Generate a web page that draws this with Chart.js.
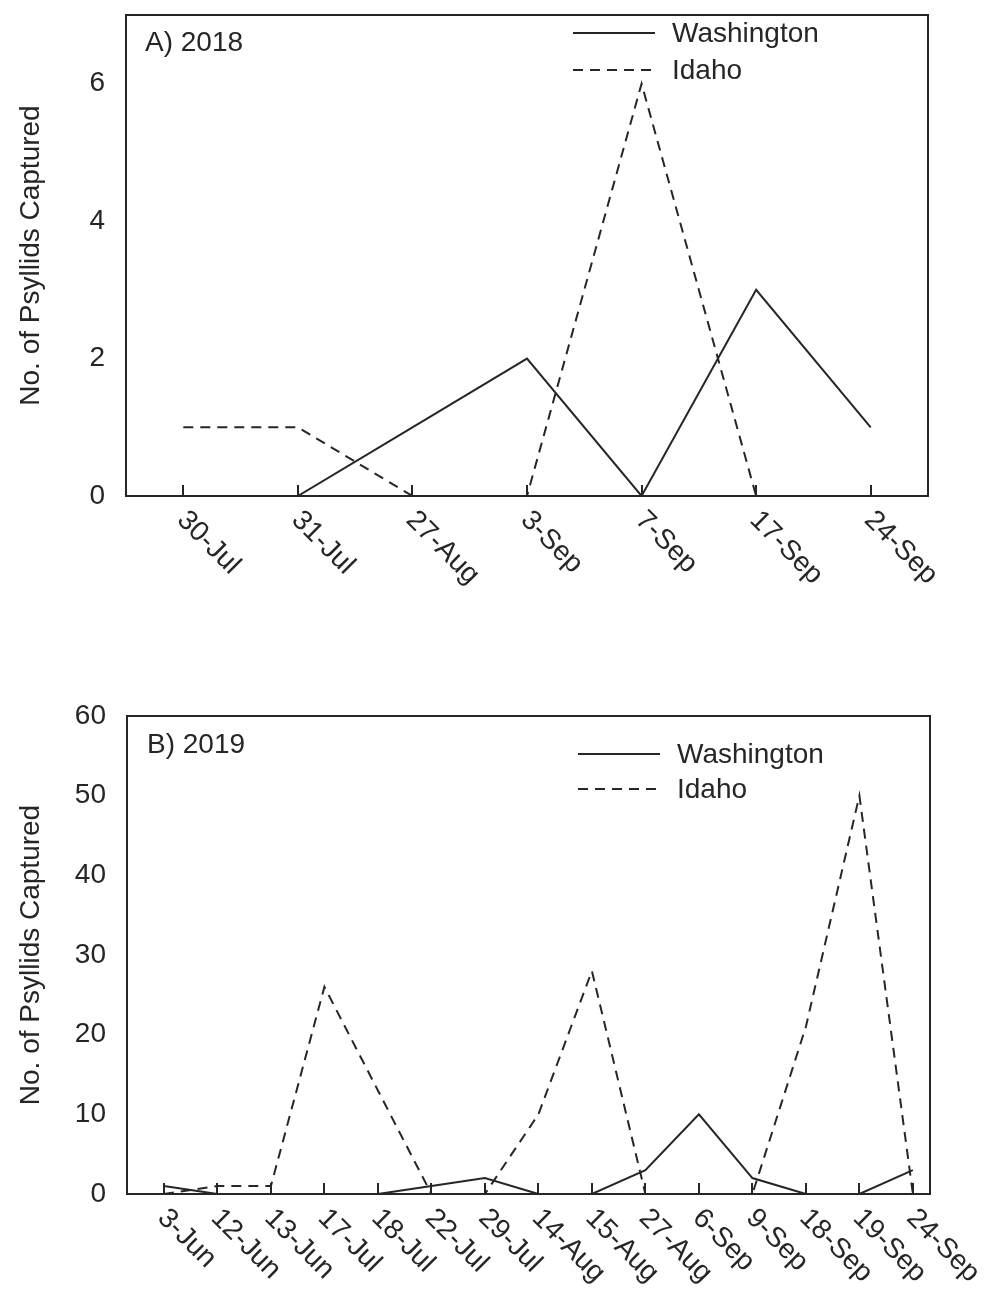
<!DOCTYPE html>
<html><head><meta charset="utf-8">
<script src="https://cdn.jsdelivr.net/npm/chart.js@4.4.1/dist/chart.umd.min.js"></script>
<style>
html,body{margin:0;padding:0;background:#fff;width:985px;height:1292px;overflow:hidden}
canvas{position:absolute;left:0}
</style></head><body>
<canvas id="cA" width="985" height="640" style="top:0;width:985px;height:640px"></canvas>
<canvas id="cB" width="985" height="642" style="top:650px;width:985px;height:642px"></canvas>
<script>
// ---------- data ----------
const datesA = ['30-Jul','31-Jul','27-Aug','3-Sep','7-Sep','17-Sep','24-Sep'];
const washingtonA = [0, 0, 1, 2, 0, 3, 1];
const idahoA = [1, 1, 0, 0, 6, 0, 0];
const yTicksA = [0, 2, 4, 6];

const datesB = ['3-Jun','12-Jun','13-Jun','17-Jul','18-Jul','22-Jul','29-Jul','14-Aug','15-Aug','27-Aug','6-Sep','9-Sep','18-Sep','19-Sep','24-Sep'];
const washingtonB = [1, 0, 0, 0, 0, 1, 2, 0, 0, 3, 10, 2, 0, 0, 3];
const idahoB = [0, 1, 1, 26, 13, 0, 0, 10, 28, 0, 0, 0, 21, 50, 0];
const yTicksB = [0, 10, 20, 30, 40, 50, 60];

const seriesNames = ['Washington', 'Idaho'];
const yTitle = 'No. of Psyllids Captured';

// ---------- style ----------
const FAMILY = '"Liberation Sans", Arial, Helvetica, sans-serif';
const FSIZE = 28;
const INK = '#262626';

function framePlugin(o) {
  return {
    id: 'frame' + o.panel.charAt(0),
    afterDraw(chart) {
      const ctx = chart.ctx, a = chart.chartArea;
      ctx.save();
      ctx.strokeStyle = INK; ctx.lineWidth = 2;
      ctx.strokeRect(a.left, a.top, a.right - a.left, a.bottom - a.top);
      ctx.font = FSIZE + 'px ' + FAMILY;
      ctx.fillStyle = INK;
      // rotated x tick labels, positioned by the x scale
      const xs = chart.scales.x;
      ctx.textAlign = 'left'; ctx.textBaseline = 'top';
      xs.ticks.forEach((t, i) => {
        const x = xs.getPixelForTick(i);
        ctx.save();
        ctx.translate(x + o.lx, a.bottom + o.ly);
        ctx.rotate(Math.PI / 4);
        ctx.fillText(o.labels[t.value], 0, 0);
        ctx.restore();
      });
      // panel label
      ctx.textBaseline = 'middle';
      ctx.fillText(o.panel, a.left + o.px, a.top + o.py);
      // legend
      chart.data.datasets.forEach((ds, k) => {
        const y = a.top + o.legY + k * o.legGap;
        ctx.beginPath();
        ctx.setLineDash(ds.borderDash || []);
        ctx.lineWidth = ds.borderWidth;
        ctx.strokeStyle = ds.borderColor;
        ctx.moveTo(o.legX, y); ctx.lineTo(o.legX + 82, y); ctx.stroke();
        ctx.setLineDash([]);
        ctx.fillText(ds.label, o.legX + 99, y + 1);
      });
      ctx.restore();
    }
  };
}

function yAxis(max, step, width) {
  return {
    min: 0, max: max,
    ticks: { stepSize: step, includeBounds: false, padding: 21, color: INK, font: { size: FSIZE, family: FAMILY } },
    grid: { display: false, drawTicks: false },
    border: { display: true, color: INK, width: 2 },
    title: { display: true, text: yTitle, color: INK, font: { size: FSIZE, family: FAMILY }, padding: { top: 14, bottom: 0 } },
    afterFit(s) { s.width = width; s.paddingTop = 0; s.paddingBottom = 0; }
  };
}

const xGrid = { display: true, drawOnChartArea: false, drawTicks: true, tickLength: -11, color: INK, lineWidth: 2 };

function ds(label, data, dashed) {
  return {
    label: label, data: data,
    borderColor: INK, borderWidth: 2,
    borderDash: dashed ? [10, 7] : [],
    pointRadius: 0, tension: 0, fill: false
  };
}

// ---------- chart A ----------
new Chart(document.getElementById('cA'), {
  type: 'line',
  data: {
    labels: datesA,
    datasets: [ds(seriesNames[0], washingtonA, false), ds(seriesNames[1], idahoA, true)]
  },
  options: {
    responsive: false, animation: false, devicePixelRatio: 1,
    layout: { padding: { left: 0, right: 57, top: 15, bottom: 0 } },
    plugins: { legend: { display: false }, tooltip: { enabled: false } },
    scales: {
      x: {
        type: 'category', offset: true,
        grid: xGrid,
        ticks: { display: false },
        border: { display: true, color: INK, width: 2 },
        afterFit(s) { s.height = 144; s.paddingLeft = 0; s.paddingRight = 0; }
      },
      y: Object.assign(yAxis(7, 2, 126), { afterBuildTicks(s) { s.ticks = yTicksA.map(v => ({ value: v })); } })
    }
  },
  plugins: [framePlugin({ panel: 'A) 2018', labels: datesA, lx: 8, ly: 10, px: 19, py: 28, legX: 573, legY: 18, legGap: 37 })]
});

// ---------- chart B ----------
new Chart(document.getElementById('cB'), {
  type: 'line',
  data: {
    datasets: [
      ds(seriesNames[0], washingtonB.map((v, i) => ({ x: i, y: v })), false),
      ds(seriesNames[1], idahoB.map((v, i) => ({ x: i, y: v })), true)
    ]
  },
  options: {
    responsive: false, animation: false, devicePixelRatio: 1,
    layout: { padding: { left: 0, right: 55, top: 66, bottom: 0 } },
    plugins: { legend: { display: false }, tooltip: { enabled: false } },
    scales: {
      x: {
        type: 'linear', min: -0.69, max: 14.32,
        grid: xGrid,
        ticks: { display: false },
        border: { display: true, color: INK, width: 2 },
        afterBuildTicks(s) { s.ticks = datesB.map((_, i) => ({ value: i })); },
        afterFit(s) { s.height = 98; s.paddingLeft = 0; s.paddingRight = 0; }
      },
      y: Object.assign(yAxis(60, 10, 127), { afterBuildTicks(s) { s.ticks = yTicksB.map(v => ({ value: v })); } })
    }
  },
  plugins: [framePlugin({ panel: 'B) 2019', labels: datesB, lx: 8, ly: 10, px: 20, py: 29, legX: 578, legY: 38, legGap: 35 })]
});
</script>
</body></html>
